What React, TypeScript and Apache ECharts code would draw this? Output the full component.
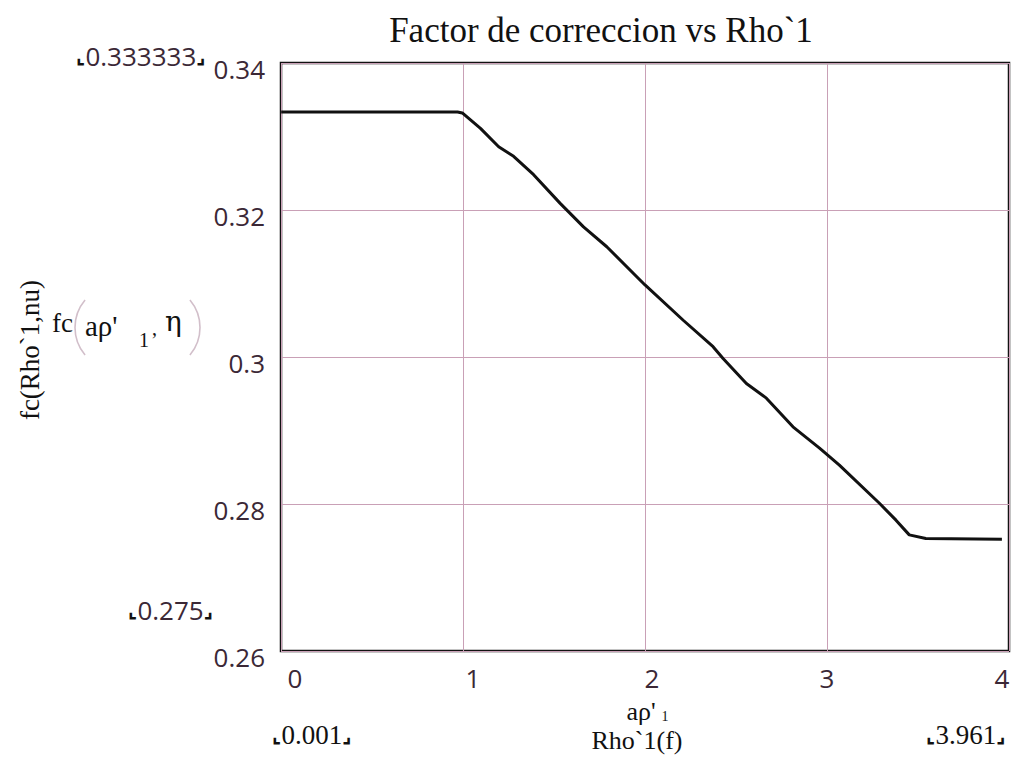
import React, { useEffect, useRef } from "react";
import * as echarts from "echarts";

const xValues = [0.001, 0.97, 0.996, 1.096, 1.196, 1.278, 1.388, 1.534, 1.662, 1.79, 2.0, 2.21, 2.374, 2.429, 2.557, 2.667, 2.813, 2.959, 3.068, 3.288, 3.379, 3.452, 3.543, 3.961];
const yValues = [0.333333, 0.333333, 0.3332, 0.3311, 0.3286, 0.3273, 0.3248, 0.3209, 0.3177, 0.315, 0.3098, 0.305, 0.3014, 0.2998, 0.2964, 0.2944, 0.2905, 0.2876, 0.2853, 0.2801, 0.2778, 0.2758, 0.2753, 0.2752];
const yTicks = [0.26, 0.28, 0.3, 0.32, 0.34];
const xTicks = [0, 1, 2, 3, 4];

const titleText = "Factor de correccion vs Rho`1";
const yName = "fc(Rho`1,nu)";
const xName = "Rho`1(f)";
const markerTop = "0.333333";
const markerBottom = "0.275";
const markerLeft = "0.001";
const markerRight = "3.961";

const SANS = "'Open Sans', 'DejaVu Sans', sans-serif";
const SERIF = "'Liberation Serif', 'DejaVu Serif', serif";
const LABEL = "#3b2836";
const PAREN = "#d2bfca";

// horizontal nudges of the x tick labels (Mathcad places them unevenly)
const xLabelShift: Record<string, number> = { "0": 28, "1": 20, "2": 14, "3": 0, "4": -14 };

export default function App() {
  const ref = useRef<HTMLDivElement>(null);
  useEffect(() => {
    if (!ref.current) return;
    const chart = echarts.init(ref.current, null, { renderer: "svg" });
    const bracket = (t: string) => `{b|⌞}${t}{b|⌟}`;
    const bracketRich = { b: { fontFamily: "DejaVu Sans", fontSize: 20, fontWeight: "bold", fill: "#111" } };
    const rich: Record<string, any> = {};
    xTicks.forEach((t) => {
      const s = xLabelShift[String(t)] || 0;
      rich["l" + t] = {
        fontFamily: SANS,
        fontSize: 26,
        color: LABEL,
        padding: s >= 0 ? [0, 0, 0, s] : [0, -s, 0, 0],
      };
    });
    const arcLen = 0.7;
    chart.setOption({
      animation: false,
      backgroundColor: "#fff",
      title: {
        text: titleText,
        left: 596,
        top: 8,
        textAlign: "center",
        textStyle: { fontFamily: SERIF, fontSize: 35, fontWeight: "normal", color: "#111" },
      },
      grid: { left: 281, right: 13, top: 63, bottom: 125, show: true, borderColor: "#111", borderWidth: 2.5, backgroundColor: "transparent" },
      xAxis: {
        type: "value",
        min: xTicks[0],
        max: xTicks[xTicks.length - 1],
        interval: 1,
        axisLine: { show: false },
        axisTick: { show: false },
        splitLine: { show: true, lineStyle: { color: "#c9a0b6", width: 1 } },
        axisLabel: {
          fontFamily: SANS,
          fontSize: 26,
          color: LABEL,
          margin: 14,
          formatter: (v: number) => `{l${v}|${v}}`,
          rich,
        },
      },
      yAxis: {
        type: "value",
        min: yTicks[0],
        max: yTicks[yTicks.length - 1],
        interval: 0.02,
        axisLine: { show: false },
        axisTick: { show: false },
        splitLine: { show: true, lineStyle: { color: "#c9a0b6", width: 1 } },
        axisLabel: {
          fontFamily: SANS,
          fontSize: 26,
          color: LABEL,
          margin: 16,
          verticalAlign: "top",
          lineHeight: 12,
          formatter: (v: number) => String(parseFloat(v.toFixed(2))),
        },
      },
      series: [
        {
          type: "line",
          data: xValues.map((x, i) => [x, yValues[i]]),
          showSymbol: false,
          lineStyle: { color: "#111", width: 3 },
          itemStyle: { color: "#111" },
        },
      ],
      graphic: [
        {
          type: "text",
          x: 76,
          y: 43,
          style: { text: bracket(markerTop), fontFamily: SANS, fontSize: 26, fill: LABEL, rich: bracketRich },
        },
        {
          type: "text",
          x: 128,
          y: 597,
          style: { text: bracket(markerBottom), fontFamily: SANS, fontSize: 26, fill: LABEL, rich: bracketRich },
        },
        {
          type: "text",
          x: 272,
          y: 721,
          style: { text: bracket(markerLeft), fontFamily: SERIF, fontSize: 27, fill: "#111", rich: bracketRich },
        },
        {
          type: "text",
          x: 926,
          y: 721,
          style: { text: bracket(markerRight), fontFamily: SERIF, fontSize: 27, fill: "#111", rich: bracketRich },
        },
        {
          type: "text",
          x: 30,
          y: 350,
          rotation: Math.PI / 2,
          style: { text: yName, fontFamily: SERIF, fontSize: 27, fill: "#111", align: "center", verticalAlign: "middle" },
        },
        {
          type: "text",
          x: 52,
          y: 309,
          style: { text: "fc", fontFamily: SERIF, fontSize: 27, fill: "#111" },
        },
        {
          type: "arc",
          shape: { cx: 117.8, cy: 327.5, r: 42.8, startAngle: Math.PI - arcLen, endAngle: Math.PI + arcLen },
          style: { stroke: PAREN, lineWidth: 1.6, fill: "none" },
        },
        {
          type: "text",
          x: 85,
          y: 311,
          style: { text: "aρ'", fontFamily: SERIF, fontSize: 29, fill: "#111" },
        },
        {
          type: "text",
          x: 139,
          y: 330,
          style: { text: "1", fontFamily: SERIF, fontSize: 20, fill: "#111" },
        },
        {
          type: "text",
          x: 152,
          y: 318,
          style: { text: ",", fontFamily: SERIF, fontSize: 20, fill: "#111" },
        },
        {
          type: "text",
          x: 165,
          y: 307,
          style: { text: "η", fontFamily: "DejaVu Serif", fontSize: 28, fill: "#111" },
        },
        {
          type: "arc",
          shape: { cx: 157.2, cy: 327.5, r: 42.8, startAngle: -arcLen, endAngle: arcLen },
          style: { stroke: PAREN, lineWidth: 1.6, fill: "none" },
        },
        {
          type: "text",
          x: 641,
          y: 711,
          style: { text: "aρ'", fontFamily: SERIF, fontSize: 26, fill: "#111", align: "center", verticalAlign: "middle" },
        },
        {
          type: "text",
          x: 637,
          y: 740,
          style: { text: xName, fontFamily: SERIF, fontSize: 26, fill: "#111", align: "center", verticalAlign: "middle" },
        },
        {
          type: "text",
          x: 665,
          y: 716,
          style: { text: "1", fontFamily: SERIF, fontSize: 14, fill: "#111", align: "center", verticalAlign: "middle" },
        },
      ],
    });
    return () => chart.dispose();
  }, []);
  return <div ref={ref} style={{ position: "fixed", left: 0, top: 0, width: 1022, height: 776, background: "#fff" }} />;
}
